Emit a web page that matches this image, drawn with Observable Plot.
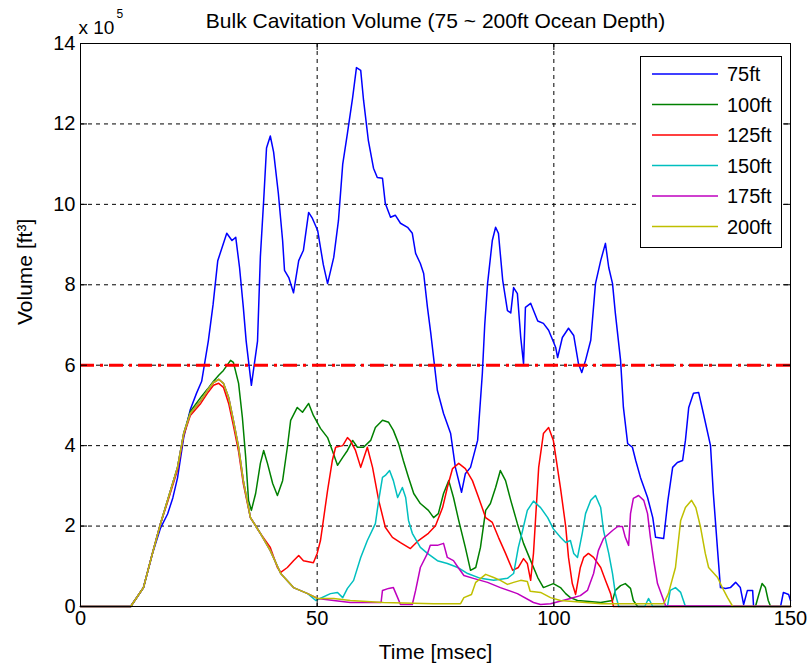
<!DOCTYPE html>
<html><head><meta charset="utf-8">
<script src="https://cdn.jsdelivr.net/npm/d3@7"></script>
<script src="https://cdn.jsdelivr.net/npm/@observablehq/plot@0.6"></script>
<style>body{margin:0;background:#fff;} svg{display:block}</style>
</head><body><div id="chart"></div>
<script>
const titleText = "Bulk Cavitation Volume (75 ~ 200ft Ocean Depth)";
const xLabel = "Time [msec]";
const yLabel = "Volume [ft³]";
const xTicks = [0, 50, 100, 150];
const yTicks = [0, 2, 4, 6, 8, 10, 12, 14];
const gridX = [50, 100];
const gridY = [2, 4, 6, 8, 10, 12];
const threshold = [6];
const seriesNames = ["75ft", "100ft", "125ft", "150ft", "175ft", "200ft"];
const seriesColors = ["#0000ff", "#008000", "#ff0000", "#00bfbf", "#bf00bf", "#bfbf00"];

// [time msec, volume x 10^5 ft^3]
const s75 = [[0,0],[10.6,0],[13.3,0.47],[15.2,1.32],[16.9,1.95],[18.4,2.3],[19.5,2.7],[20.5,3.2],[21.8,4.2],[23.2,4.9],[24.5,5.3],[25.6,5.6],[27.0,6.6],[28.0,7.5],[29.0,8.6],[30.9,9.28],[32.0,9.1],[32.8,9.18],[33.6,8.43],[34.4,7.44],[35.0,6.6],[36.1,5.5],[37.4,6.6],[38.0,8.7],[38.7,10.1],[39.3,11.4],[40.1,11.7],[40.8,11.3],[41.8,10.27],[42.7,9.1],[43.1,8.36],[44.0,8.18],[45.0,7.8],[46.1,8.6],[47.1,8.86],[48.2,9.8],[49.0,9.65],[50.1,9.35],[51.3,8.5],[52.2,8.03],[53.5,8.68],[54.5,9.6],[55.4,11.0],[56.4,11.77],[57.5,12.66],[58.3,13.4],[59.2,13.33],[59.8,12.59],[60.8,11.6],[61.9,10.9],[62.7,10.67],[63.8,10.65],[64.4,10.02],[65.5,9.68],[66.5,9.73],[67.6,9.53],[69.1,9.43],[70.1,9.28],[70.8,8.78],[71.8,8.53],[72.5,8.28],[73.3,7.44],[74.0,6.8],[75.4,5.37],[76.7,4.8],[78.2,4.3],[79.2,3.46],[80.5,2.84],[81.3,3.3],[82.4,3.46],[83.9,4.13],[84.9,5.8],[85.4,7.0],[86.0,8.03],[87.0,9.1],[87.7,9.43],[88.3,9.28],[89.2,8.11],[90.2,7.36],[90.9,7.3],[91.5,7.93],[92.3,7.78],[93.0,6.7],[93.6,6.04],[94.0,7.44],[95.1,7.54],[96.6,7.1],[97.8,7.04],[98.9,6.87],[100.4,6.44],[100.8,6.19],[101.8,6.69],[103.1,6.92],[104.2,6.74],[105.2,6.04],[105.9,5.82],[106.7,6.12],[107.8,6.62],[108.8,8.03],[109.9,8.6],[110.9,9.03],[111.6,8.43],[112.4,8.03],[113.0,7.29],[114.1,6.12],[114.7,4.95],[115.6,4.05],[116.6,3.96],[117.3,3.63],[118.3,3.21],[119.8,2.71],[120.9,2.21],[121.5,1.72],[123.2,1.69],[124.1,2.64],[125.1,3.46],[126.1,3.58],[127.2,3.63],[127.8,4.13],[128.5,4.95],[129.5,5.3],[130.6,5.32],[131.6,4.8],[133.1,4.0],[133.7,2.81],[134.6,1.39],[135.2,0.47],[136.3,0.45],[137.3,0.47],[138.4,0.6],[139.4,0.47],[140.1,0.05],[140.9,0.4],[142.0,0.4],[142.2,0],[147.9,0],[148.5,0.35],[149.6,0.3],[150,0.15]];

const s100 = [[0,0],[10.6,0],[13.3,0.47],[15.2,1.32],[16.9,2.06],[18.4,2.64],[20.5,3.46],[21.8,4.3],[23.2,4.85],[25.4,5.2],[26.8,5.4],[28.1,5.6],[29.2,5.75],[30.2,5.87],[31.7,6.12],[32.3,6.07],[33.4,5.55],[34.2,4.7],[34.9,3.71],[35.5,2.64],[36.1,2.39],[37.0,2.81],[38.0,3.56],[38.7,3.88],[39.5,3.56],[40.6,3.06],[41.6,2.76],[42.7,3.13],[43.7,3.96],[44.4,4.63],[45.8,4.95],[46.9,4.83],[48.2,5.05],[49.2,4.75],[50.7,4.43],[52.2,4.2],[53.2,3.88],[54.3,3.51],[55.4,3.71],[56.4,3.88],[57.5,4.13],[58.5,3.96],[59.8,3.96],[61.3,4.13],[62.3,4.45],[63.8,4.63],[65.1,4.58],[66.1,4.38],[67.2,4.05],[68.2,3.63],[69.3,3.21],[70.4,2.81],[71.8,2.56],[73.5,2.39],[74.6,2.21],[75.6,2.31],[76.7,2.81],[77.8,3.13],[78.8,2.71],[79.9,2.14],[81.3,1.47],[82.4,0.9],[83.5,0.97],[84.5,1.47],[85.6,2.39],[86.6,2.56],[87.7,2.96],[88.7,3.38],[89.8,3.13],[90.9,2.64],[92.3,2.06],[93.6,1.57],[95.1,1.14],[96.6,0.72],[97.8,0.47],[99.9,0.57],[101.4,0.47],[102.5,0.32],[103.5,0.22],[105,0.15],[109.9,0.1],[112.4,0.15],[113,0.4],[114.1,0.52],[115.1,0.57],[116.2,0.45],[116.8,0.15],[117.7,0],[142.6,0],[143.3,0.3],[144,0.57],[144.7,0.47],[145.3,0.15],[145.8,0],[150,0]];

const s125 = [[0,0],[10.6,0],[13.3,0.47],[15.2,1.32],[16.9,2.06],[18.4,2.6],[20.5,3.4],[21.8,4.25],[23.2,4.75],[25.4,5.05],[26.8,5.3],[28.1,5.5],[29.2,5.55],[30.2,5.45],[31.3,5.05],[32.3,4.5],[33.4,3.85],[34.4,3.05],[35.9,2.21],[38.0,1.82],[40.1,1.47],[41.6,0.97],[42.3,0.85],[43.7,0.97],[45.0,1.14],[46.1,1.27],[47.1,1.14],[49.2,1.09],[50.0,1.32],[50.7,1.64],[51.1,1.97],[52.2,2.89],[53.2,3.63],[53.9,3.96],[55.4,4.0],[56.4,4.2],[57.0,4.13],[58.1,3.88],[59.2,3.46],[60.6,3.96],[61.7,3.46],[63.0,2.64],[64.4,1.97],[65.9,1.72],[67.6,1.59],[69.7,1.44],[71.4,1.64],[73.5,1.82],[75.0,2.01],[76.5,2.46],[77.5,2.96],[78.6,3.43],[79.9,3.56],[81.3,3.43],[82.8,3.13],[84.1,2.71],[85.6,2.21],[87.0,2.09],[88.3,1.72],[89.8,1.32],[91.3,0.9],[92.5,0.97],[93.6,1.19],[94.4,1.07],[95.1,0.65],[95.7,1.32],[96.8,3.46],[97.8,4.3],[98.9,4.45],[99.9,4.13],[101.4,2.95],[102.5,2.0],[103.1,1.22],[103.9,0.57],[104.6,0.3],[105.6,0.97],[106.3,1.22],[107.3,1.32],[108.4,1.22],[109.9,0.97],[110.9,0.65],[112.0,0.32],[112.6,0],[150,0]];

const s150 = [[0,0],[10.6,0],[13.3,0.47],[15.2,1.32],[16.9,2.06],[18.4,2.64],[20.5,3.46],[21.8,4.3],[23.2,4.8],[25.4,5.12],[26.8,5.37],[28.1,5.57],[29.2,5.65],[30.2,5.55],[31.3,5.2],[32.3,4.63],[33.4,3.96],[34.4,3.13],[35.9,2.21],[38.0,1.82],[40.1,1.39],[42.3,0.82],[45.0,0.47],[48.0,0.32],[49.7,0.15],[52.8,0.32],[54.3,0.35],[55.4,0.22],[56.4,0.45],[57.7,0.65],[59.2,1.22],[60.6,1.64],[62.3,2.06],[63,2.64],[63.8,3.21],[64.4,3.26],[65.3,3.38],[66.1,3.13],[67,2.71],[68,2.96],[68.7,2.71],[69.3,2.14],[70.1,1.82],[71.8,1.47],[73.3,1.32],[75.4,1.14],[77.5,1.07],[79.7,0.97],[81.8,0.82],[84.5,0.7],[87.3,0.65],[90.2,0.7],[91.5,0.82],[92.5,1.47],[93.4,1.89],[94.4,2.39],[95.7,2.62],[97.2,2.46],[98.7,2.21],[99.9,1.93],[101.4,1.72],[102.5,1.59],[103.5,1.64],[104.2,1.32],[105,1.22],[106,1.82],[106.7,2.31],[107.8,2.64],[108.8,2.76],[109.9,2.46],[110.5,1.89],[111.6,1.32],[112.4,0.82],[113,0.32],[113.7,0],[119.2,0],[120,0.2],[120.9,0],[124,0],[124.6,0.4],[125.7,0.47],[126.8,0.35],[127.8,0],[150,0]];

const s175 = [[0,0],[10.6,0],[13.3,0.47],[15.2,1.32],[16.9,2.06],[18.4,2.64],[20.5,3.46],[21.8,4.3],[23.2,4.8],[25.4,5.12],[26.8,5.37],[28.1,5.57],[29.2,5.65],[30.2,5.55],[31.3,5.2],[32.3,4.63],[33.4,3.96],[34.4,3.13],[35.9,2.21],[38.0,1.82],[40.1,1.39],[42.3,0.82],[45.0,0.47],[48.0,0.32],[50.1,0.2],[53.5,0.15],[57,0.1],[63.5,0.1],[63.8,0.4],[65.1,0.45],[66.1,0.47],[67,0.22],[67.6,0.05],[70.1,0.05],[70.8,0.4],[71.8,0.97],[73.3,1.32],[73.9,1.52],[75.4,1.52],[76.7,1.57],[77.5,1.22],[78.8,1.14],[79.9,0.95],[81,0.77],[83,0.7],[86,0.6],[88.7,0.47],[92.3,0.32],[95.7,0.1],[97.2,0.05],[99.3,0.07],[103.5,0.2],[105.6,0.27],[107.1,0.4],[108.4,0.82],[109.4,1.39],[110.5,1.69],[112.4,1.89],[113.5,1.99],[114.5,1.99],[115.1,1.72],[115.8,1.52],[116.2,2.31],[116.8,2.69],[117.9,2.76],[119,2.64],[119.8,2.31],[120.4,1.72],[121.1,1.14],[121.9,0.57],[123,0.22],[123.6,0.02],[150,0]];

const s200 = [[0,0],[10.6,0],[13.3,0.47],[15.2,1.32],[16.9,2.06],[18.4,2.64],[20.5,3.46],[21.8,4.3],[23.2,4.8],[25.4,5.12],[26.8,5.37],[28.1,5.57],[29.2,5.65],[30.2,5.55],[31.3,5.2],[32.3,4.63],[33.4,3.96],[34.4,3.13],[35.9,2.21],[38.0,1.82],[40.1,1.39],[42.3,0.82],[45.0,0.47],[48.0,0.32],[50.1,0.2],[53.5,0.2],[57,0.15],[64,0.1],[74.6,0.07],[80.3,0.07],[81,0.22],[82.6,0.3],[83.5,0.6],[85.6,0.8],[87.3,0.72],[88.7,0.65],[90.2,0.55],[91.5,0.6],[93,0.65],[94.4,0.62],[95,0.38],[97.2,0.35],[99.3,0.22],[101.4,0.15],[110,0.07],[123.2,0.07],[124.2,0.32],[125.7,0.97],[126.8,2.14],[127.8,2.46],[129.1,2.64],[130,2.46],[131,1.97],[132,1.32],[132.7,0.97],[134.6,0.72],[135.6,0.47],[136.7,0.22],[137.8,0],[150,0]];

const seriesData = [s75, s100, s125, s150, s175, s200];

const W = 812, H = 670, ML = 80, MR = 22, MT = 43, MB = 64;
const fw = W - ML - MR, fh = H - MT - MB;
const font = '"Liberation Sans", Arial, Helvetica, sans-serif';

const chart = Plot.plot({
  width: W, height: H,
  marginLeft: ML, marginRight: MR, marginTop: MT, marginBottom: MB,
  style: {fontFamily: font, fontSize: "20px", background: "white", color: "black", overflow: "visible"},
  x: {domain: [0, 150]},
  y: {domain: [0, 14]},
  marks: [
    Plot.ruleX(gridX, {stroke: "black", strokeWidth: 1, strokeDasharray: "4,4"}),
    Plot.ruleY(gridY, {stroke: "black", strokeWidth: 1, strokeDasharray: "4,4"}),
    ...seriesData.map((s, i) => Plot.line(s, {x: d => d[0], y: d => d[1], stroke: seriesColors[i], strokeWidth: 1.5})),
    Plot.ruleY(threshold, {stroke: "#ff0000", strokeWidth: 3, strokeDasharray: "14,6,3,6"}),
    Plot.frame({stroke: "black", strokeWidth: 1}),
    Plot.tickX(xTicks, {x: d => d, insetTop: fh - 7, stroke: "black"}),
    Plot.tickX(xTicks, {x: d => d, insetBottom: fh - 7, stroke: "black"}),
    Plot.tickY(yTicks, {y: d => d, insetRight: fw - 7, stroke: "black"}),
    Plot.tickY(yTicks, {y: d => d, insetLeft: fw - 7, stroke: "black"}),
    Plot.axisX(xTicks, {tickSize: 0, tickPadding: 4, label: null}),
    Plot.axisY(yTicks, {tickSize: 0, tickPadding: 5, label: null}),
    Plot.text([titleText], {text: d => d, frameAnchor: "top", lineAnchor: "middle", dy: -22, fontSize: 21}),
    Plot.text([xLabel], {text: d => d, frameAnchor: "bottom", lineAnchor: "middle", dy: 46, fontSize: 21}),
    Plot.text([yLabel], {text: d => d, frameAnchor: "left", dx: -55, rotate: -90, fontSize: 21}),
    Plot.text(["x 10"], {text: d => d, frameAnchor: "top-left", lineAnchor: "middle", dx: -2, dy: -16, textAnchor: "start", fontSize: 19}),
    Plot.text(["5"], {text: d => d, frameAnchor: "top-left", lineAnchor: "middle", dx: 36, dy: -29, textAnchor: "start", fontSize: 12})
  ]
});

// inset legend (upper right, MATLAB style)
const svg = d3.select(chart);
const lg = svg.append("g").attr("font-family", font).attr("font-size", 20).attr("text-anchor", "start");
lg.append("rect").attr("x", 640.5).attr("y", 56.5).attr("width", 141).attr("height", 191)
  .attr("fill", "white").attr("stroke", "black").attr("stroke-width", 1);
seriesNames.forEach((name, i) => {
  const y = 74 + i * 30.5;
  lg.append("line").attr("x1", 652).attr("x2", 718).attr("y1", y).attr("y2", y)
    .attr("stroke", seriesColors[i]).attr("stroke-width", 1.5);
  lg.append("text").attr("x", 727).attr("y", y + 7).attr("fill", "black").attr("text-anchor", "start").text(name);
});

document.getElementById("chart").appendChild(chart);
</script>
</body></html>
